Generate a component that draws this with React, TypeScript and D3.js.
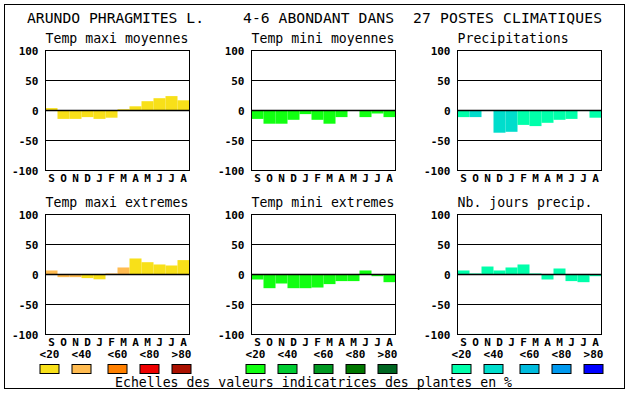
import React from "react";
import * as d3 from "d3";

const months = ["S", "O", "N", "D", "J", "F", "M", "A", "M", "J", "J", "A"];
const yTicks = [100, 50, 0, -50, -100];
const legendLabels = ["<20", "<40", "<60", "<80", ">80"];

const maxiColors = ["#F8E019", "#FFBB50", "#FF8000", "#EE0000", "#AA1100"];
const miniColors = ["#11FF11", "#00CC33", "#009922", "#007700", "#006622"];
const precColors = ["#00FFAA", "#00DDCC", "#00BBDD", "#0099EE", "#0000FF"];

const tmaxMoyValues = [4, -14, -14, -11, -14, -12, 2, 7, 15.5, 20.5, 24, 17];
const tmaxMoyClass = [0, 0, 0, 0, 0, 0, 0, 0, 0, 0, 0, 0];
const tminMoyValues = [-14, -22, -22, -15.5, -6, -15.5, -22, -11, 0, -11, -5, -11];
const tminMoyClass = [0, 0, 0, 0, 0, 0, 0, 0, 0, 0, 0, 0];
const precValues = [-11, -11, 0, -37, -35.5, -24, -26, -20.5, -15.5, -14, 0, -12];
const precClass = [0, 1, 0, 1, 1, 0, 0, 0, 0, 0, 0, 0];
const tmaxExtValues = [6.7, -4.4, -4.4, -6, -8, 1.7, 11.7, 26.7, 20.5, 16.7, 15, 24];
const tmaxExtClass = [1, 1, 1, 0, 0, 1, 1, 0, 0, 0, 0, 0];
const tminExtValues = [-8.3, -22.8, -15, -22.8, -22.8, -21.7, -16, -11, -11, 6.7, -2.8, -12.8];
const tminExtClass = [0, 0, 0, 0, 0, 0, 0, 0, 0, 0, 0, 0];
const njValues = [6.7, 1.7, 13.3, 6.7, 11.7, 16.7, 1.7, -8.3, 10, -11, -12.8, -2.8];
const njClass = [0, 0, 0, 0, 0, 0, 0, 0, 0, 0, 0, 0];

const MONO = "'DejaVu Sans Mono', 'Liberation Mono', monospace";

type PanelProps = {
  left: number;
  top: number;
  title: string;
  values: number[];
  classes: number[];
  colors: string[];
};

function Panel({ left, top, title, values, classes, colors }: PanelProps) {
  const w = 144;
  const h = 120;
  const x = d3.scaleBand<string>().domain(months.map((m, i) => String(i))).range([left, left + w]).padding(0);
  const y = d3.scaleLinear().domain([-100, 100]).range([top + h, top]);
  return (
    <g>
      <text x={left} y={top - 8} fontFamily={MONO} fontSize={13.2} fill="#000">{title}</text>
      {values.map((v, i) => (
        v === 0 ? null : (
          <rect key={i} x={x(String(i))} width={x.bandwidth()} y={Math.min(y(v), y(0))} height={Math.abs(y(v) - y(0))} fill={colors[classes[i]]} />
        )
      ))}
      {[50, -50].map((t) => (
        <line key={t} x1={left} x2={left + w} y1={y(t)} y2={y(t)} stroke="#000" strokeWidth={1} />
      ))}
      <line x1={left} x2={left + w} y1={y(0)} y2={y(0)} stroke="#000" strokeWidth={1.6} />
      <rect x={left} y={top} width={w} height={h} fill="none" stroke="#000" strokeWidth={1} />
      {yTicks.map((t) => (
        <text key={t} x={left - 7} y={y(t) + 4} textAnchor="end" fontFamily={MONO} fontWeight="bold" fontSize={11} fill="#000">{t}</text>
      ))}
      {months.map((m, i) => (
        <text key={i} x={(x(String(i)) as number) + x.bandwidth() / 2} y={top + h + 11} textAnchor="middle" fontFamily={MONO} fontWeight="bold" fontSize={11} fill="#000">{m}</text>
      ))}
    </g>
  );
}

function Legend({ left, colors }: { left: number; colors: string[] }) {
  const offsets = [-6, 26, 62, 94, 126];
  return (
    <g>
      {colors.map((c, i) => (
        <g key={i}>
          <text x={left + offsets[i] + 10} y={358} textAnchor="middle" fontFamily={MONO} fontWeight="bold" fontSize={11} fill="#000">{legendLabels[i]}</text>
          <rect x={left + offsets[i] + 0.5} y={364.5} width={19} height={9} fill={c} stroke="#000" strokeWidth={1} />
        </g>
      ))}
    </g>
  );
}

export default function App() {
  const lefts = [45.5, 251.5, 457.5];
  const tops = [50.5, 214.5];
  return (
    <svg width={630} height={394} style={{ position: "absolute", left: 0, top: 0, background: "#fff" }}>
      <rect x={0} y={0} width={630} height={394} fill="#fff" />
      <rect x={4.5} y={4.5} width={620} height={384} fill="none" stroke="#000" strokeWidth={1} />
      <text x={27} y={23} fontFamily={MONO} fontSize={14.7} textLength={177} lengthAdjust="spacing" fill="#000">ARUNDO PHRAGMITES L.</text>
      <text x={243} y={23} fontFamily={MONO} fontSize={14.7} textLength={151} lengthAdjust="spacing" fill="#000">4-6 ABONDANT DANS</text>
      <text x={413} y={23} fontFamily={MONO} fontSize={14.7} textLength={189} lengthAdjust="spacing" fill="#000">27 POSTES CLIMATIQUES</text>
      <Panel left={lefts[0]} top={tops[0]} title="Temp maxi moyennes" values={tmaxMoyValues} classes={tmaxMoyClass} colors={maxiColors} />
      <Panel left={lefts[1]} top={tops[0]} title="Temp mini moyennes" values={tminMoyValues} classes={tminMoyClass} colors={miniColors} />
      <Panel left={lefts[2]} top={tops[0]} title="Precipitations" values={precValues} classes={precClass} colors={precColors} />
      <Panel left={lefts[0]} top={tops[1]} title="Temp maxi extremes" values={tmaxExtValues} classes={tmaxExtClass} colors={maxiColors} />
      <Panel left={lefts[1]} top={tops[1]} title="Temp mini extremes" values={tminExtValues} classes={tminExtClass} colors={miniColors} />
      <Panel left={lefts[2]} top={tops[1]} title="Nb. jours precip." values={njValues} classes={njClass} colors={precColors} />
      <Legend left={lefts[0]} colors={maxiColors} />
      <Legend left={lefts[1]} colors={miniColors} />
      <Legend left={lefts[2]} colors={precColors} />
      <text x={115} y={387} fontFamily={MONO} fontSize={13.2} fill="#000">Echelles des valeurs indicatrices des plantes en %</text>
    </svg>
  );
}
